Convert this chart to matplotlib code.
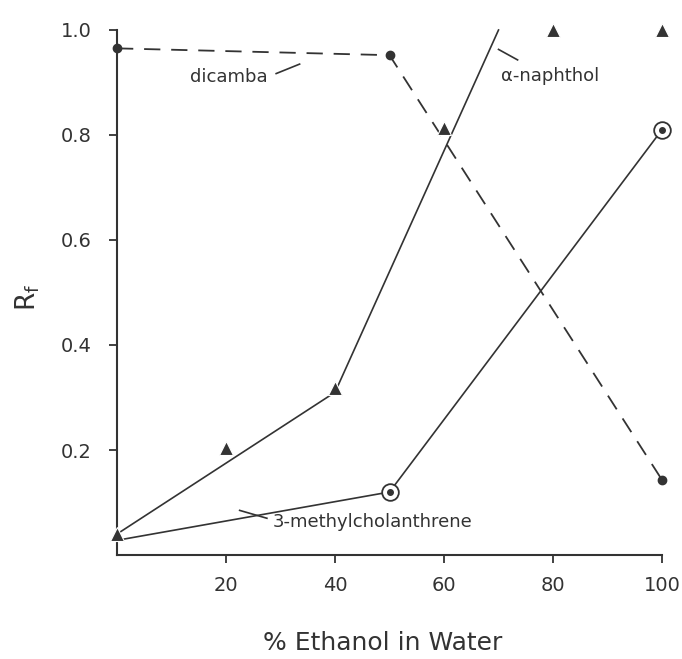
import matplotlib
matplotlib.use("Agg")
import matplotlib.pyplot as plt

# Data
dicamba_x = [0, 50, 100]
dicamba_y = [0.965, 0.952, 0.143]

naphthol_pts_x = [0, 20, 40, 60, 80, 100]
naphthol_pts_y = [0.04, 0.204, 0.318, 0.813, 1.0, 1.0]
naphthol_line_x = [0, 40, 70]
naphthol_line_y = [0.04, 0.31, 1.0]

mc_x = [0, 50, 100]
mc_y = [0.028, 0.12, 0.81]

xticks = [20, 40, 60, 80, 100]
yticks = [0.2, 0.4, 0.6, 0.8, 1.0]
ytick_labels = ["0.2", "0.4", "0.6", "0.8", "1.0"]

ink = "#333333"
plt.rcParams['font.family'] = ['DejaVu Sans']

fig = plt.figure(figsize=(6.82, 6.59), dpi=100)
ax = fig.add_axes([0.1716, 0.1578, 0.7991, 0.7967])

# dicamba dashed
ax.plot(dicamba_x, dicamba_y, color=ink, lw=1.3, dashes=(9, 6), clip_on=False, zorder=2)
ax.plot(dicamba_x, dicamba_y, ls='none', marker='o', ms=6, color=ink, clip_on=False, zorder=4)

# alpha-naphthol
ax.plot(naphthol_line_x, naphthol_line_y, color=ink, lw=1.2, clip_on=False, zorder=2)
ax.plot(naphthol_pts_x, naphthol_pts_y, ls='none', marker='^', ms=10, mfc=ink, mec='white',
        mew=0.8, clip_on=False, zorder=4)

# 3-methylcholanthrene
ax.plot(mc_x, mc_y, color=ink, lw=1.2, clip_on=False, zorder=2)
ax.plot(mc_x[1:], mc_y[1:], ls='none', marker='o', ms=12, mfc='white', mec=ink, mew=1.3,
        clip_on=False, zorder=4)
ax.plot(mc_x[1:], mc_y[1:], ls='none', marker='o', ms=4, color=ink, clip_on=False, zorder=5)

ax.set_xlim(0, 100)
ax.set_ylim(0, 1.0)
ax.spines['top'].set_visible(False)
ax.spines['right'].set_visible(False)
for s in ['left', 'bottom']:
    ax.spines[s].set_color(ink)
    ax.spines[s].set_linewidth(1.5)

ax.set_xticks(xticks)
ax.set_xticklabels([str(t) for t in xticks])
ax.set_yticks(yticks)
ax.set_yticklabels(ytick_labels)
ax.tick_params(axis='both', direction='out', length=6, width=1.3, color=ink,
               labelcolor=ink, labelsize=14)
ax.tick_params(axis='x', pad=9)
ax.tick_params(axis='y', pad=12)

ax.set_xlabel("% Ethanol in Water", fontsize=18, color=ink, va='center')
ax.xaxis.set_label_coords(0.488, -0.168)
ax.set_ylabel(r"R$_\mathregular{f}$", fontsize=19, color=ink, va='center')
ax.yaxis.set_label_coords(-0.163, 0.49)

# annotations
ax.text(20.5, 0.91, "dicamba", fontsize=13, color=ink, ha='center', va='center')
ax.plot([29.2, 33.5], [0.917, 0.935], color=ink, lw=1.2)
ax.text(70.5, 0.912, "\u03b1-naphthol", fontsize=13, color=ink, ha='left', va='center')
ax.plot([70.0, 73.5], [0.963, 0.943], color=ink, lw=1.2)
ax.text(28.5, 0.062, "3-methylcholanthrene", fontsize=13, color=ink, ha='left', va='center')
ax.plot([22.5, 27.5], [0.085, 0.07], color=ink, lw=1.2)

fig.savefig("out.png", dpi=100)
